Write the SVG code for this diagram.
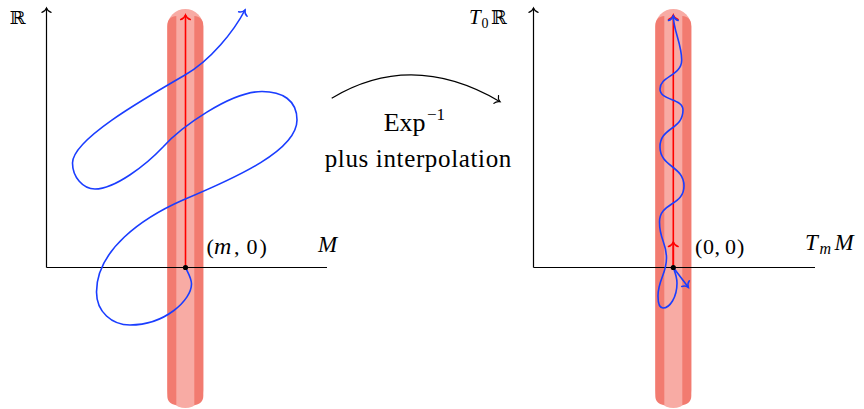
<svg xmlns="http://www.w3.org/2000/svg" width="864" height="409" viewBox="0 0 864 409">
<defs>
<style>
.axis{fill:none;stroke:#000;stroke-width:1.2}
.tl{fill:#F8ABA4}
.td{fill:#F27B70}
.red{fill:none;stroke:#FF0000;stroke-width:1.6}
.blue{fill:none;stroke:#1A3DFF;stroke-width:1.6;stroke-linejoin:round;stroke-linecap:round}
.lbl{font-family:"Liberation Serif","Times New Roman",serif;fill:#000}
.it{font-style:italic}
.bb{font-family:"DejaVu Serif","DejaVu Sans",serif;font-style:normal}
</style>
<marker id="ahk" viewBox="-7 -7 9 14" markerWidth="9" markerHeight="14" refX="0" refY="0" orient="auto" markerUnits="userSpaceOnUse">
<path d="M-4.4,-4.6 C-3.8,-2.3 -1.5,-0.6 0,0 C-1.5,0.6 -3.8,2.3 -4.4,4.6" fill="none" stroke="#000" stroke-width="1.2" stroke-linecap="round"/>
</marker>
<marker id="ahr" viewBox="-7 -7 9 14" markerWidth="9" markerHeight="14" refX="0" refY="0" orient="auto" markerUnits="userSpaceOnUse">
<path d="M-4.6,-4.8 C-4,-2.4 -1.5,-0.6 0,0 C-1.5,0.6 -4,2.4 -4.6,4.8" fill="none" stroke="#FF0000" stroke-width="1.5" stroke-linecap="round"/>
</marker>
<marker id="ahb" viewBox="-7 -7 9 14" markerWidth="9" markerHeight="14" refX="0" refY="0" orient="auto" markerUnits="userSpaceOnUse">
<path d="M-4.6,-4.8 C-4,-2.4 -1.5,-0.6 0,0 C-1.5,0.6 -4,2.4 -4.6,4.8" fill="none" stroke="#1A3DFF" stroke-width="1.5" stroke-linecap="round"/>
</marker>
<g id="tube">
<rect class="tl" x="-18" y="9" width="36" height="399" rx="18"/>
<path class="td" d="M-18,26 C-18,19 -14,16.5 -9,16 L-9,405 C-14,404.5 -18,402 -18,396 Z"/>
<path class="td" d="M18,26 C18,19 14,16.5 9,16 L9,405 C14,404.5 18,402 18,396 Z"/>
</g>
</defs>

<g id="left-plot">
<use href="#tube" transform="translate(185.3,0)"/>
<path class="axis" d="M46.5,267.5 H327"/>
<path class="axis" d="M46.5,267.5 V8" marker-end="url(#ahk)"/>
<path class="red" d="M185.5,267.5 V15" marker-end="url(#ahr)"/>
<path class="blue" marker-end="url(#ahb)" d="M185.5,267.5 C188,273 191.5,278 191.5,284 C191.5,300 165,325 130,325 C112,325 96.5,312 96.5,292 C96.5,250 142,218 183,200 C238,177 297,150 297,120 C297,100 282,91.5 262,91.5 C230,91.5 180,128 163,147 C146,165 115,189 95,189 C83,189 72.5,177 72.5,163 C72.5,140 140,101 185,75 C211,60 234,31 245,10"/>
<circle cx="185.5" cy="267.5" r="2.6" fill="#000"/>
<text class="lbl bb" x="9.5" y="24" font-size="18" textLength="16" lengthAdjust="spacingAndGlyphs">ℝ</text>
<text class="lbl" y="254" font-size="22"><tspan x="206.5">(</tspan><tspan class="it" x="214" font-size="24">m</tspan><tspan x="234">,</tspan><tspan x="246.5">0</tspan><tspan x="259.5">)</tspan></text>
<text class="lbl it" x="318" y="251.7" font-size="23">M</text>
</g>

<g id="right-plot">
<use href="#tube" transform="translate(673.3,0)"/>
<path class="axis" d="M533.5,267.5 H815"/>
<path class="axis" d="M533.5,267.5 V8" marker-end="url(#ahk)"/>
<path class="red" d="M673.3,267.5 V15" marker-end="url(#ahr)"/>
<path class="red" d="M673.3,267.5 V242" marker-end="url(#ahr)"/>
<path class="blue" marker-end="url(#ahb)" d="M673.3,267.5 C675,272 677,277 677,283 C677,297 670,308 663,308 C659.5,308 658,302.5 658,296 C658,280 666.5,274 666.5,258 C666.5,242 659.5,240 659.5,222 C659.5,202 684,206 684,186 C684,166 660,167 660,147 C660,127 683,130 683,110 C683,98 660,101 660,89 C660,76 681.7,76 681.7,60 C681.7,44 673.3,30 673.3,16"/>
<path class="blue" d="M673.3,267.5 L688.3,287.3" marker-end="url(#ahb)"/>
<circle cx="673.3" cy="267.5" r="2.6" fill="#000"/>
<text class="lbl" y="24" font-size="21"><tspan class="it" x="469">T</tspan><tspan x="481.5" y="28" font-size="14">0</tspan><tspan class="bb" x="491" y="24" font-size="19">ℝ</tspan></text>
<text class="lbl" y="253.5" font-size="22"><tspan x="695">(</tspan><tspan x="703">0</tspan><tspan x="714.5">,</tspan><tspan x="725">0</tspan><tspan x="737">)</tspan></text>
<text class="lbl it" y="250" font-size="23"><tspan x="805">T</tspan><tspan x="819.5" y="253.5" font-size="16">m</tspan><tspan x="834.5" y="250">M</tspan></text>
</g>

<g id="mapping-label">
<text class="lbl" font-size="26"><tspan x="383.7" y="131">Exp</tspan><tspan x="427" y="120" font-size="17">−1</tspan></text>
<text class="lbl" x="324.7" y="166.7" font-size="25" textLength="186.6" lengthAdjust="spacing">plus interpolation</text>
</g>

<g id="connectors">
<path class="axis" d="M331.7,98.3 Q412,50 500,101.7" marker-end="url(#ahk)"/>
</g>
</svg>
